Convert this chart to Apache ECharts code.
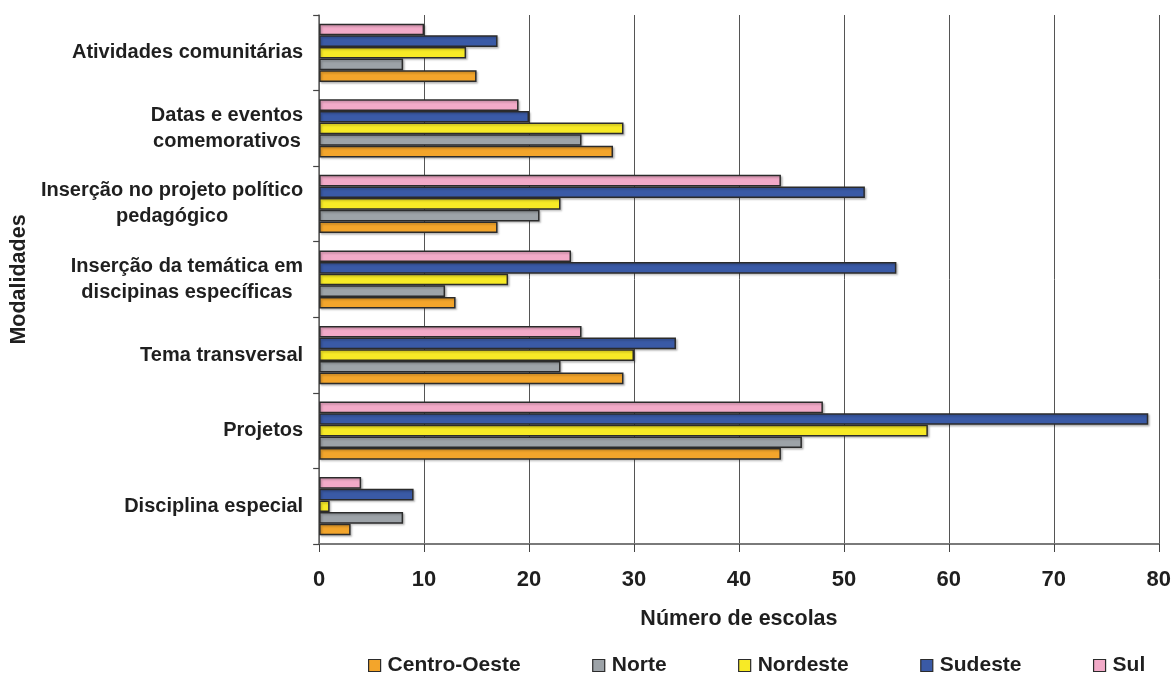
<!DOCTYPE html>
<html>
<head>
<meta charset="utf-8">
<script src="https://cdn.jsdelivr.net/npm/echarts@6/dist/echarts.min.js"></script>
<style>
  html, body { margin: 0; padding: 0; background: #fff; }
  #chart { width: 1174px; height: 675px; }
</style>
</head>
<body>
<div id="chart"></div>
<script>
// Modalidades (top to bottom)
const categories = [
  'Atividades comunitárias',
  'Datas e eventos\ncomemorativos',
  'Inserção no projeto político\npedagógico',
  'Inserção da temática em\ndiscipinas específicas',
  'Tema transversal',
  'Projetos',
  'Disciplina especial'
];

// Número de escolas por região
const centroOeste = [15, 28, 17, 13, 29, 44, 3];
const norte       = [8, 25, 21, 12, 23, 46, 8];
const nordeste    = [14, 29, 23, 18, 30, 58, 1];
const sudeste     = [17, 20, 52, 55, 34, 79, 9];
const sul         = [10, 19, 44, 24, 25, 48, 4];

// Legend order
const regionNames = ['Centro-Oeste', 'Norte', 'Nordeste', 'Sudeste', 'Sul'];
const regionColors = ['#F3A52B', '#9DA3A8', '#F7EA26', '#3A5AA6', '#F2AAC8'];
const regionData = [centroOeste, norte, nordeste, sudeste, sul];

const xTicks = { min: 0, max: 80, interval: 10 };

const darkText = '#1f1f1f';

// Bars inside each group run Sul (top) ... Centro-Oeste (bottom),
// so the series are added in reverse legend order.
const series = regionNames.map((name, i) => ({
  name: name,
  type: 'bar',
  data: regionData[i],
  barGap: '0%',
  barCategoryGap: '23%',
  itemStyle: {
    color: regionColors[i],
    borderColor: '#2b2b2b',
    borderWidth: 1.5,
    shadowColor: 'rgba(0,0,0,0.22)',
    shadowBlur: 2,
    shadowOffsetX: 1.5,
    shadowOffsetY: 1.5
  }
})).reverse();

const chart = echarts.init(document.getElementById('chart'));
chart.setOption({
  animation: false,
  backgroundColor: '#ffffff',
  grid: { left: 319, right: 15, top: 15, bottom: 131, containLabel: false },
  legend: {
    data: regionNames,
    left: 363,
    top: 650,
    itemWidth: 12,
    itemHeight: 12,
    itemGap: 71.5,
    icon: 'rect',
    itemStyle: { borderColor: '#2b2b2b', borderWidth: 1.2 },
    textStyle: {
      fontFamily: 'Liberation Sans, Arial, sans-serif',
      fontWeight: 'bold',
      fontSize: 21,
      color: darkText,
      padding: [0, 0, 0, 2]
    }
  },
  xAxis: {
    type: 'value',
    min: xTicks.min,
    max: xTicks.max,
    interval: xTicks.interval,
    name: 'Número de escolas',
    nameLocation: 'middle',
    nameGap: 64,
    nameTextStyle: {
      fontFamily: 'Liberation Sans, Arial, sans-serif',
      fontWeight: 'bold',
      fontSize: 21.5,
      color: darkText
    },
    axisLine: { show: true, lineStyle: { color: '#7a7a7a', width: 2 } },
    axisTick: { show: true, length: 8, lineStyle: { color: '#444', width: 1 } },
    axisLabel: {
      margin: 25,
      fontFamily: 'Liberation Sans, Arial, sans-serif',
      fontWeight: 'bold',
      fontSize: 22,
      color: darkText
    },
    splitLine: { show: true, lineStyle: { color: '#555', width: 1 } }
  },
  yAxis: {
    type: 'category',
    data: categories,
    inverse: true,
    name: 'Modalidades',
    nameLocation: 'middle',
    nameGap: 284,
    nameTextStyle: {
      fontFamily: 'Liberation Sans, Arial, sans-serif',
      fontWeight: 'bold',
      fontSize: 21.5,
      color: darkText
    },
    axisLine: { show: true, lineStyle: { color: '#666', width: 1.5 } },
    axisTick: { show: true, inside: false, length: 6, lineStyle: { color: '#444', width: 1.2 } },
    axisLabel: {
      margin: 16,
      align: 'right',
      fontFamily: 'Liberation Sans, Arial, sans-serif',
      fontWeight: 'bold',
      fontSize: 20,
      lineHeight: 26,
      color: darkText,
      formatter: v => v.split('\n').map(l => '{c|' + l + '}').join('\n'),
      rich: {
        c: {
          align: 'center',
          fontFamily: 'Liberation Sans, Arial, sans-serif',
          fontWeight: 'bold',
          fontSize: 20,
          lineHeight: 26,
          color: darkText
        }
      }
    },
    splitLine: { show: false }
  },
  series: series
});
</script>
</body>
</html>
